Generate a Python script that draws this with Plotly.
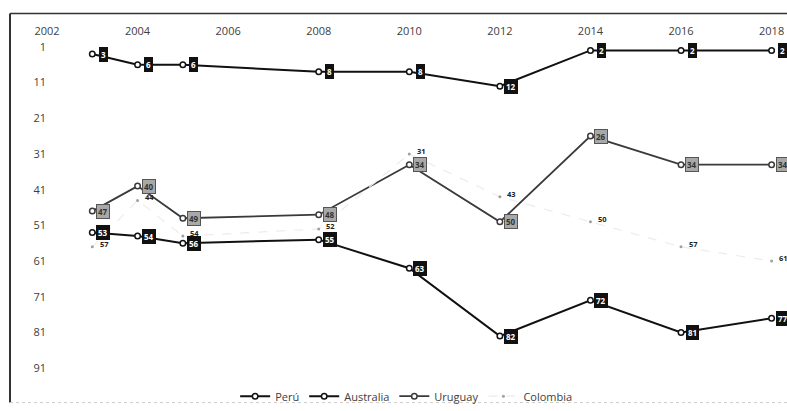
import plotly.graph_objects as go

# Ranking positions by year (lower number = better position)
years = [2003, 2004, 2005, 2008, 2010, 2012, 2014, 2016, 2018]
peru = [53, 54, 56, 55, 63, 82, 72, 81, 77]
australia = [3, 6, 6, 8, 8, 12, 2, 2, 2]
uruguay = [47, 40, 49, 48, 34, 50, 26, 34, 34]
colombia = [57, 44, 54, 52, 31, 43, 50, 57, 61]

x_ticks = [2002, 2004, 2006, 2008, 2010, 2012, 2014, 2016, 2018]
y_ticks = [1, 11, 21, 31, 41, 51, 61, 71, 81, 91]

FONT = "Open Sans"

fig = go.Figure()

series = [
    ("Perú", peru, "#111111", 2.0, "solid"),
    ("Australia", australia, "#111111", 2.0, "solid"),
    ("Uruguay", uruguay, "#3a3a3a", 1.8, "solid"),
    ("Colombia", colombia, "#ececec", 1.2, "dash"),
]

for name, vals, color, width, dash in series:
    if name == "Colombia":
        marker = dict(size=3, color="#a0a0a0")
    else:
        marker = dict(size=5.5, color="white", line=dict(color=color, width=1.5))
    fig.add_trace(go.Scatter(
        x=years, y=vals, name=name, mode="lines+markers",
        line=dict(color=color, width=width, dash=dash),
        marker=marker, cliponaxis=False,
    ))

# Value labels next to each point
annotations = []
for x, v in zip(years, australia):
    annotations.append(dict(x=x, y=v, text=f"<b>{v}</b>", showarrow=False, xshift=11,
                            font=dict(family=FONT, size=8, color="white"),
                            bgcolor="#111111", bordercolor="#111111", borderpad=1))
for x, v in zip(years, peru):
    annotations.append(dict(x=x, y=v, text=f"<b>{v}</b>", showarrow=False, xshift=11,
                            font=dict(family=FONT, size=8, color="white"),
                            bgcolor="#111111", bordercolor="#111111", borderpad=1))
for x, v in zip(years, uruguay):
    annotations.append(dict(x=x, y=v, text=f"<b>{v}</b>", showarrow=False, xshift=11,
                            font=dict(family=FONT, size=8, color="#333333"),
                            bgcolor="#a8a8a8", bordercolor="#555555", borderpad=1))
for x, v in zip(years, colombia):
    annotations.append(dict(x=x, y=v, text=f"<b>{v}</b>", showarrow=False, xshift=12,
                            yshift=3, font=dict(family=FONT, size=7.5, color="#222222")))

# Outer frame of the chart area
shapes = [
    dict(type="line", xref="paper", yref="paper", x0=-0.05, x1=1.0, y0=1.072, y1=1.072,
         line=dict(color="#333333", width=1.5)),
    dict(type="line", xref="paper", yref="paper", x0=-0.05, x1=-0.05, y0=-0.066, y1=1.072,
         line=dict(color="#333333", width=2)),
    dict(type="line", xref="paper", yref="paper", x0=-0.05, x1=1.0, y0=-0.066, y1=-0.066,
         line=dict(color="#cccccc", width=1, dash="dot")),
]

fig.update_layout(
    width=787, height=411,
    margin=dict(l=47, r=0, t=38, b=26),
    paper_bgcolor="white", plot_bgcolor="white",
    font=dict(family=FONT, size=11, color="#404040"),
    xaxis=dict(side="top", range=[2002, 2018.34], tickvals=x_ticks,
               showgrid=False, zeroline=False, showline=False, ticks="",
               tickfont=dict(size=11, color="#404040")),
    yaxis=dict(range=[94.3, -1.48], tickvals=y_ticks, showgrid=False,
               zeroline=False, showline=False, ticks="",
               tickfont=dict(size=11, color="#404040")),
    legend=dict(orientation="h", x=0.486, xanchor="center", y=-0.005, yanchor="top",
                font=dict(size=11, color="#404040"), bgcolor="rgba(0,0,0,0)",
                itemwidth=30, tracegroupgap=0),
    showlegend=True,
    annotations=annotations,
    shapes=shapes,
)

fig.write_html("out.html")
